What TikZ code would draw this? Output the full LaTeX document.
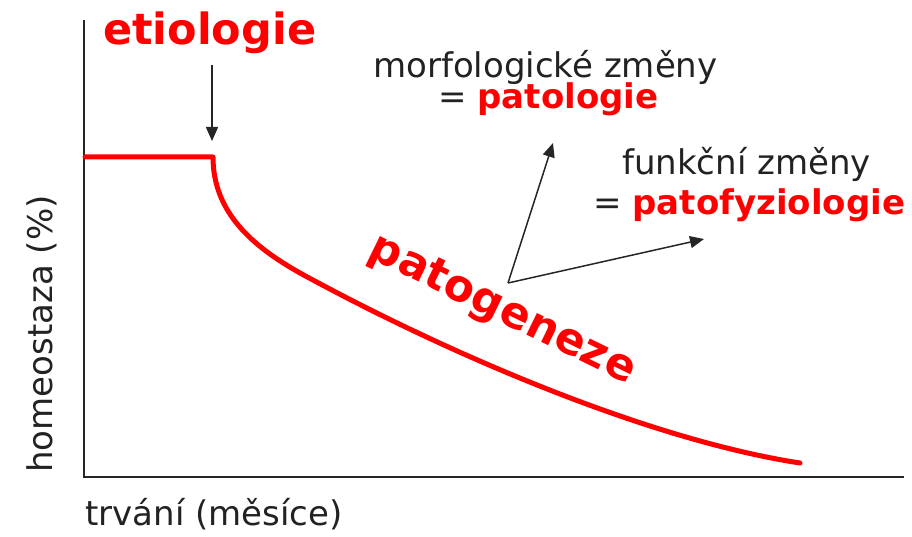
\documentclass[tikz,border=0pt]{standalone}
\usepackage{fontspec}
\setmainfont{DejaVu Sans}
\usetikzlibrary{arrows.meta}
\definecolor{hotred}{RGB}{255,0,0}
\definecolor{inkgray}{RGB}{34,34,34}
\begin{document}
\begin{tikzpicture}[x=1pt,y=-1pt,
  plain/.style={font=\fontsize{34}{40}\selectfont, text=inkgray, inner sep=0pt},
  bigterm/.style={font=\fontsize{43}{50}\selectfont\bfseries, text=hotred, inner sep=0pt},
  axis/.style={draw=black!85, line width=2.6pt},
  course/.style={draw=hotred, line width=5pt, line join=round, line cap=round},
  pointer/.style={draw=black!85, line width=1.5pt, -{Triangle[length=14pt,width=12pt]}},
]
\useasboundingbox (0,0) rectangle (912,537);

% axes
\coordinate (top) at (84,20);
\coordinate (origin) at (84,477);
\coordinate (xend) at (904,477);
\draw[axis] (top) -- (origin) -- (xend);

% axis titles
\node[plain, anchor=base west] (xlab) at (85,525) {trvání (měsíce)};
\node[plain, anchor=base west, rotate=90] (ylab) at (52,473) {homeostaza (\%)};

% course of homeostasis
\coordinate (onset) at (213,157);
\draw[course] (85,157) -- (onset)
  .. controls (213,212) and (252,246) .. (300,273)
  .. controls (450,355) and (650,440) .. (800,463);

% labels
\node[bigterm, anchor=base west] (etio) at (103,45) {etiologie};
\coordinate (etiotail) at (212,65);
\coordinate (etiohead) at (212,141);
\draw[pointer] (etiotail) -- (etiohead);

\node[plain, anchor=base west] (morf) at (373,78) {morfologické změny};
\node[plain, anchor=base west] (pato) at (438,109) {= \textcolor{hotred}{\bfseries patologie}};
\node[plain, anchor=base west] (funk) at (622,175) {funkční změny};
\node[plain, anchor=base west] (patof) at (593,215) {= \textcolor{hotred}{\bfseries patofyziologie}};

\node[bigterm, font=\fontsize{44}{50}\selectfont\bfseries, rotate=-26] (pgen) at (502,311) {patogeneze};

% pointers from pathogenesis
\coordinate (fork) at (508,283);
\coordinate (upper) at (553,143);
\coordinate (right) at (704,239);
\draw[pointer] (fork) -- (upper);
\draw[pointer] (fork) -- (right);
\end{tikzpicture}
\end{document}
